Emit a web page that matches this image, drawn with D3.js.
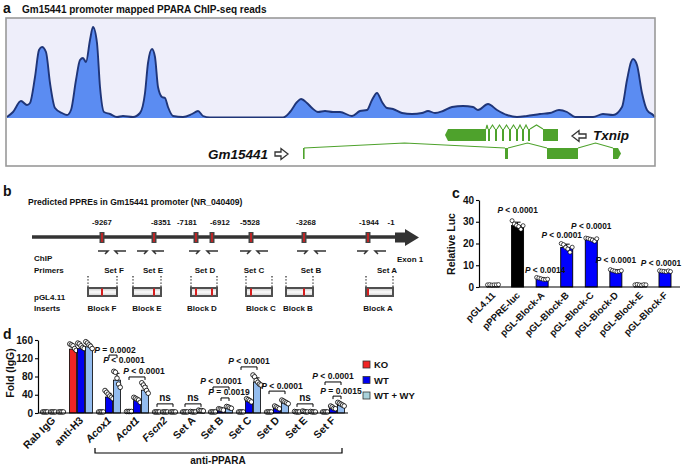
<!DOCTYPE html>
<html><head><meta charset="utf-8">
<script src="https://cdn.jsdelivr.net/npm/d3@7/dist/d3.min.js"></script>
<style>
body{margin:0;background:#fff}
svg text{font-family:"Liberation Sans",Arial,Helvetica,sans-serif;font-weight:bold;fill:#111}
</style></head><body>
<svg id="fig" width="685" height="466"></svg>
<script>
// ================= DATA =================
// Panel a: ChIP-seq read coverage (genomic bin, reads)
const signalBin = [7,13,21,27,30,35,39,42,46,50,55,62,67,71,76,80,83,86,90,93,97,100,104,110,117,123,133,140,145,148,152,155,158,162,165,168,173,183,192,198,203,210,233,260,283,290,297,301,307,312,318,325,333,340,352,360,367,372,377,382,387,393,402,412,422,428,435,443,452,463,473,478,488,497,507,517,527,540,550,559,567,575,593,603,613,622,627,631,633,637,642,647,653,655];
const signalVal = [1,6,17,13,15,41,68,71,66,35,10,5,3,8,38,58,60,56,78,91,75,31,6,4,1,2,1,5,25,55,69,61,31,21,20,11,2,1,4,7,2,0.5,0.5,0.5,0.5,6,16,19,15,10,6,7,6,6,2,7,8,18,25,16,10,9,5,4,5,7,5,7,11,12,11,8,14,8,3,1,2,4,5,8,6,1,1,4,3,11,38,56,59,53,25,8,3,1];
const gmExons = [[303,304],[505,508],[547,578],[613,621]];
const txnipExons = [[445,486],[488,490],[495,497],[502,504],[509,511],[516,518],[522,524],[528,530],[543,558]];

// Panel b
const ppreSites = [-9267,-8351,-7181,-6912,-5528,-3268,-1944,-1];
const primerSets = ["Set F","Set E","Set D","Set C","Set B","Set A"];
const blockNames = ["Block F","Block E","Block D","Block C","Block B","Block A"];
const blockSites = [[-9267],[-8351],[-7181,-6912],[-5528],[-3268],[-1944]];

// Panel c
const cCats = ["pGL4.11","pPPRE-luc","pGL-Block-A","pGL-Block-B","pGL-Block-C","pGL-Block-D","pGL-Block-E","pGL-Block-F"];
const cMeans = [1,28.3,3.8,18.2,21.8,7.4,1,7.2];
const cSD = [0.2,1.5,0.4,1.5,0.6,0.5,0.2,0.3];
const cDots = [[1,1.1,0.9,1,1,1.1],[30.5,29,28.3,27.8,26.5,28.2],[4.4,4.1,3.8,3.5,3.4,3.6],[20,19.5,18.2,17.5,16,18.3],[22.5,22.3,22,21.6,21,22.2],[8,7.6,7.3,7,7.2,7.5],[1,1.2,1,0.8,1.1,1],[7.5,7.3,7.2,7,7.4,7.1]];
const cP = ["","P < 0.0001","P < 0.0014","P < 0.0001","P < 0.0001","P < 0.0001","","P < 0.0001"];

// Panel d
const dGroups = ["Rab IgG","anti-H3","Acox1","Acot1","Fscn2","Set A","Set B","Set C","Set D","Set E","Set F"];
const dItalic = ["Acox1","Acot1","Fscn2"];
const dSeries = ["KO","WT","WT + WY"];
const dKO = [1,140,1,2,1,1,1,1,1,1,1];
const dWT = [1,141,35,27,1,1.5,6,25,10,1,10];
const dWY = [1,145,72,50,1,4,10,68,22,1,17];
const dErrKO = [0.3,7,0.3,0.5,0.3,0.3,0.3,0.3,0.3,0.5,0.3];
const dErrWT = [0.3,6,8,5,0.3,0.5,1.5,3,2.5,0.5,3];
const dErrWY = [0.3,6,15,9,0.3,1,2,9,3.5,0.5,3.5];
const dDotsKO = [[1,1,1,1],[150,148,146,140,136],[1,1,1,1],[2,2,2,2],[1,1,1,1],[1,1,1,1],[1,1,1,1],[1,1,1,1],[1,1,1,1],[2,1,1,1],[1,1,1,1]];
const dDotsWT = [[1,1,1,1],[152,150,146,142,140],[48,44,40,36,33,30],[33,31,29,27,22],[1,1,1,1],[2,1,1,1],[8,7,6,5],[30,28,26,23],[14,12,10,8],[3,2,1,1],[14,12,9,8]];
const dDotsWY = [[1,1,1,1],[155,152,148,145,140],[90,88,75,62,55],[65,60,55,48,42],[1,1,1,1],[5,4,4,3],[13,12,10,9],[82,78,70,66,62,60],[27,25,23,21,19],[2,1,1,1],[22,20,18,16,14]];
const dSig = [
  {g:"Acox1",a:1,b:2,lv:127,t:"P = 0.0002",dx:2},
  {g:"Acox1",a:null,lv:105,t:"P < 0.0001",dx:15},
  {g:"Acot1",a:0,b:2,lv:79,t:"P < 0.0001",dx:7},
  {g:"Fscn2",a:0,b:2,lv:20,t:"ns"},
  {g:"Set A",a:0,b:2,lv:20,t:"ns"},
  {g:"Set B",a:0,b:2,lv:57,t:"P < 0.0001"},
  {g:"Set B",a:1,b:2,lv:33,t:"P = 0.0019",dx:4},
  {g:"Set C",a:0,b:2,lv:101,t:"P < 0.0001"},
  {g:"Set D",a:0,b:2,lv:48,t:"P < 0.0001",dx:5},
  {g:"Set E",a:0,b:2,lv:20,t:"ns"},
  {g:"Set F",a:0,b:2,lv:68,t:"P < 0.0001"},
  {g:"Set F",a:1,b:2,lv:37,t:"P = 0.0015",dx:4}
];

// ================= DRAW =================
const svg = d3.select("#fig");
function pText(g,x,y,str,size,anchor){
  const t = g.append("text").attr("x",x).attr("y",y).attr("text-anchor",anchor||"middle").attr("font-size",size);
  if(str.startsWith("P")){ t.append("tspan").attr("font-style","italic").text("P"); t.append("tspan").text(str.slice(1)); }
  else t.text(str);
  return t;
}
function panelLabel(x,y,t){ svg.append("text").attr("x",x).attr("y",y).attr("font-size",14).text(t); }

// ---------- Panel a ----------
panelLabel(3,13,"a");
const gA = svg.append("g");
gA.append("text").attr("x",22).attr("y",13).attr("font-size",10).text("Gm15441 promoter mapped PPARA ChIP-seq reads");
gA.append("rect").attr("x",6).attr("y",18).attr("width",649).attr("height",100).attr("fill","#eeeefa");
const xA = d3.scaleLinear().domain([7,655]).range([7,655]);
const yA = d3.scaleLinear().domain([0,100]).range([118,18]);
const pts = signalBin.map((b,i)=>[b,signalVal[i]]);
gA.append("path").datum(pts)
  .attr("d", d3.area().x(d=>xA(d[0])).y0(yA(0)).y1(d=>yA(d[1])).curve(d3.curveMonotoneX))
  .attr("fill","#5b8cf2");
gA.append("path").datum(pts)
  .attr("d", d3.line().x(d=>xA(d[0])).y(d=>yA(d[1])).curve(d3.curveMonotoneX))
  .attr("fill","none").attr("stroke","#1f3578").attr("stroke-width",1.9);
gA.append("rect").attr("x",6).attr("y",118).attr("width",649).attr("height",48).attr("fill","#fff");
gA.append("rect").attr("x",6).attr("y",18).attr("width",649).attr("height",148).attr("fill","none").attr("stroke","#999").attr("stroke-width",1.6);

const green = "#4ea22c";
function gene(exons, yTop, h, peak, pointLeft, pointRight){
  const g = gA.append("g");
  exons.forEach((e,i)=>{
    const x0 = xA(e[0]), x1 = xA(e[1]);
    if(i===0 && pointLeft){
      g.append("path").attr("d",`M${x0+3},${yTop}H${x1}V${yTop+h}H${x0+3}L${x0},${yTop+h/2}Z`).attr("fill",green);
    } else if(i===exons.length-1 && pointRight){
      g.append("path").attr("d",`M${x0},${yTop}H${x1-3}L${x1},${yTop+h/2}L${x1-3},${yTop+h}H${x0}Z`).attr("fill",green);
    } else {
      g.append("rect").attr("x",x0).attr("y",yTop).attr("width",Math.max(1.6,x1-x0)).attr("height",h).attr("fill",green);
    }
    if(i<exons.length-1){
      const n = exons[i+1]; const a = xA(e[1]), b = xA(n[0]);
      g.append("path").attr("d",`M${a},${yTop}L${(a+b)/2},${yTop-peak}L${b},${yTop}`).attr("fill","none").attr("stroke",green).attr("stroke-width",1.1);
    }
  });
}
gene(txnipExons,129,12,4,true,false);
gene(gmExons,148,11,5,false,true);
gA.append("path").attr("d","M275,152H281V148.5L288,154L281,159.5V156H275Z").attr("fill","#fff").attr("stroke","#333").attr("stroke-width",1.3);
gA.append("path").attr("d","M586,134H579V130.5L572,136L579,141.5V138H586Z").attr("fill","#fff").attr("stroke","#333").attr("stroke-width",1.3);
gA.append("text").attr("x",268).attr("y",159).attr("text-anchor","end").attr("font-size",13.5).attr("font-style","italic").text("Gm15441");
gA.append("text").attr("x",593).attr("y",140).attr("font-size",13.5).attr("font-style","italic").text("Txnip");

// ---------- Panel b ----------
panelLabel(3,196,"b");
const gB = svg.append("g");
gB.append("text").attr("x",28).attr("y",205).attr("font-size",8.6).text("Predicted PPREs in Gm15441 promoter (NR_040409)");
const xB = d3.scaleLinear().domain(ppreSites).range([102,154,196,212,251,304,368,394]);
const siteLabelDx = [0,7,-9,8,-1,2,1,-3];
gB.append("line").attr("x1",32).attr("x2",396).attr("y1",237).attr("y2",237).attr("stroke","#333").attr("stroke-width",3.5);
gB.append("path").attr("d","M395,232.5H405V229L419,237.5L405,246V242.5H395Z").attr("fill","#333");
ppreSites.forEach((s,i)=>{
  gB.append("text").attr("x",xB(s)+siteLabelDx[i]).attr("y",225).attr("text-anchor","middle").attr("font-size",7.8).text(s);
  if(s!==-1){
    gB.append("rect").attr("x",xB(s)-2.5).attr("y",232).attr("width",5).attr("height",11).attr("fill","#444");
    gB.append("rect").attr("x",xB(s)-0.8).attr("y",233).attr("width",1.6).attr("height",9).attr("fill","#d81e1e");
  }
});
gB.append("text").attr("x",397).attr("y",262).attr("font-size",8).text("Exon 1");
gB.append("text").attr("x",34).attr("y",261).attr("font-size",8).text("ChIP");
gB.append("text").attr("x",34).attr("y",273).attr("font-size",8).text("Primers");
const fwdX = [98,137,189,240,297,357], revX = [115,153,207,257,315,375], setLabX = [114,153,205,254,311,387];
primerSets.forEach((s,i)=>{
  const y = 251;
  gB.append("path").attr("d",`M${fwdX[i]},${y}H${fwdX[i]+10}L${fwdX[i]+7},${y+3}`).attr("fill","none").attr("stroke","#333").attr("stroke-width",1.5);
  gB.append("path").attr("d",`M${revX[i]+11},${y}H${revX[i]}L${revX[i]+3},${y+3}`).attr("fill","none").attr("stroke","#333").attr("stroke-width",1.5);
  gB.append("text").attr("x",setLabX[i]).attr("y",273).attr("text-anchor","middle").attr("font-size",8).text(s);
});
gB.append("text").attr("x",34).attr("y",300).attr("font-size",8).text("pGL4.11");
gB.append("text").attr("x",34).attr("y",311).attr("font-size",8).text("Inserts");
const defs = svg.append("defs");
const grad = defs.append("linearGradient").attr("id","blk").attr("x1",0).attr("x2",0).attr("y1",0).attr("y2",1);
grad.append("stop").attr("offset","0%").attr("stop-color","#c8c8c8");
grad.append("stop").attr("offset","50%").attr("stop-color","#fbfbfb");
grad.append("stop").attr("offset","100%").attr("stop-color","#d0d0d0");
const blkX = [[88,117],[133,161],[191,217],[246,272],[286,313],[366,393]], blkLab = [102,147,202,261,298,378];
blockNames.forEach((b,i)=>{
  const [x0,x1] = blkX[i];
  [x0,x1].forEach(x=>gB.append("line").attr("x1",x).attr("x2",x).attr("y1",276).attr("y2",287).attr("stroke","#444").attr("stroke-width",1.4).attr("stroke-dasharray","1.4,1.8"));
  gB.append("rect").attr("x",x0).attr("y",288).attr("width",x1-x0).attr("height",8).attr("fill","url(#blk)").attr("stroke","#505050").attr("stroke-width",2);
  blockSites[i].forEach(s=>gB.append("rect").attr("x",xB(s)-1).attr("y",288.5).attr("width",2).attr("height",7).attr("fill","#d81e1e"));
  gB.append("text").attr("x",blkLab[i]).attr("y",311).attr("text-anchor","middle").attr("font-size",8).text(b);
});

// ---------- Panel c ----------
panelLabel(452,198,"c");
const gC = svg.append("g");
const xC = d3.scalePoint().domain(cCats).range([493,665]);
const yC = d3.scaleLinear().domain([0,40]).range([287,200]);
const bwC = 12;
cCats.forEach((c,i)=>{
  const x = xC(c);
  gC.append("rect").attr("x",x-bwC/2).attr("y",yC(cMeans[i])).attr("width",bwC).attr("height",yC(0)-yC(cMeans[i]))
    .attr("fill", i===1?"#000":(i===0||i===6?"#fff":"#0000ff")).attr("stroke","#000").attr("stroke-width",0.9);
  const top = yC(cMeans[i]+cSD[i]);
  gC.append("line").attr("x1",x).attr("x2",x).attr("y1",yC(cMeans[i])).attr("y2",top).attr("stroke","#000").attr("stroke-width",1);
  gC.append("line").attr("x1",x-3).attr("x2",x+3).attr("y1",top).attr("y2",top).attr("stroke","#000").attr("stroke-width",1);
  const n = cDots[i].length;
  cDots[i].forEach((v,j)=>{
    gC.append("circle").attr("cx",x+(j-(n-1)/2)*2.2).attr("cy",yC(v)).attr("r",2).attr("fill","#fff").attr("stroke","#000").attr("stroke-width",0.7);
  });
  gC.append("text").attr("transform",`translate(${x+3},${296}) rotate(-45)`).attr("text-anchor","end").attr("font-size",9.5).text(c);
});
const cPdx = [0,0,3,-5,0,0,0,-4], cPlv = [0,34,6.4,22.5,26.7,11,0,9.7];
cP.forEach((p,i)=>{ if(p) pText(gC,xC(cCats[i])+cPdx[i],yC(cPlv[i]),p,8.3); });
gC.append("g").attr("transform","translate(479,0)").call(d3.axisLeft(yC).tickValues([0,10,20,30,40]).tickSize(3).tickSizeOuter(0).tickPadding(2));
gC.append("line").attr("x1",479).attr("x2",680).attr("y1",287).attr("y2",287).attr("stroke","#000").attr("stroke-width",1.2);
gC.append("text").attr("transform","translate(455,244) rotate(-90)").attr("text-anchor","middle").attr("font-size",10.5).text("Relative Luc");

// ---------- Panel d ----------
panelLabel(3,339,"d");
const gD = svg.append("g");
const xD = d3.scalePoint().domain(dGroups).range([53,333]);
const sD = d3.scalePoint().domain(dSeries).range([-8,8]);
const yD = d3.scaleLinear().domain([0,160]).range([413,340]);
const colD = {"KO":"#f02424","WT":"#0000f0","WT + WY":"#93bcef"};
const means = {"KO":dKO,"WT":dWT,"WT + WY":dWY};
const errs = {"KO":dErrKO,"WT":dErrWT,"WT + WY":dErrWY};
const dots = {"KO":dDotsKO,"WT":dDotsWT,"WT + WY":dDotsWY};
const bwD = 7;
dGroups.forEach((g,i)=>{
  dSeries.forEach(s=>{
    const x = xD(g)+sD(s), m = means[s][i];
    gD.append("rect").attr("x",x-bwD/2).attr("y",yD(m)).attr("width",bwD).attr("height",yD(0)-yD(m)).attr("fill",colD[s]).attr("stroke","#000").attr("stroke-width",0.8);
    const top = yD(m+errs[s][i]);
    gD.append("line").attr("x1",x).attr("x2",x).attr("y1",yD(m)).attr("y2",top).attr("stroke","#000").attr("stroke-width",1);
    gD.append("line").attr("x1",x-2.5).attr("x2",x+2.5).attr("y1",top).attr("y2",top).attr("stroke","#000").attr("stroke-width",1);
    const arr = dots[s][i], n = arr.length;
    arr.forEach((v,j)=>gD.append("circle").attr("cx",x+(j-(n-1)/2)*1.6).attr("cy",yD(v)-0.6).attr("r",2.3).attr("fill","#fff").attr("stroke","#000").attr("stroke-width",0.8));
  });
  const t = gD.append("text").attr("transform",`translate(${xD(g)+3},${421}) rotate(-45)`).attr("text-anchor","end").attr("font-size",10.5).text(g);
  if(dItalic.includes(g)) t.attr("font-style","italic");
});
dSig.forEach(d=>{
  const cx = xD(d.g);
  const y = yD(d.lv);
  if(d.a!==null && d.a!==undefined){
    const x0 = cx+sD(dSeries[d.a]), x1 = cx+sD(dSeries[d.b]);
    gD.append("path").attr("d",`M${x0},${y+3}V${y}H${x1}V${y+3}`).attr("fill","none").attr("stroke","#000").attr("stroke-width",1);
    pText(gD,(x0+x1)/2+(d.dx||0),y-2.5,d.t,d.t==="ns"?10:8.5);
  } else {
    pText(gD,cx+(d.dx||0),y-2.5,d.t,8.5);
  }
});
gD.append("g").attr("transform","translate(38,0)").call(d3.axisLeft(yD).tickValues([0,40,80,120,160]).tickSize(3).tickSizeOuter(0).tickPadding(2));
gD.append("line").attr("x1",38).attr("x2",348).attr("y1",413).attr("y2",413).attr("stroke","#000").attr("stroke-width",1.2);
gD.append("text").attr("transform","translate(14,373) rotate(-90)").attr("text-anchor","middle").attr("font-size",10.5).text("Fold (IgG)");
gD.append("path").attr("d","M95,448V453H342V448").attr("fill","none").attr("stroke","#000").attr("stroke-width",1.2);
gD.append("text").attr("x",218).attr("y",464).attr("text-anchor","middle").attr("font-size",10).text("anti-PPARA");
dSeries.forEach((s,i)=>{
  const y = 361+i*15.5;
  gD.append("rect").attr("x",363).attr("y",y).attr("width",7).attr("height",7).attr("fill",s==="WT + WY"?"#a9d2dc":colD[s]).attr("stroke","#333").attr("stroke-width",0.8);
  gD.append("text").attr("x",374).attr("y",y+7).attr("font-size",9.5).text(s);
});

// axis styling
svg.selectAll(".domain").attr("stroke","#000").attr("stroke-width",1.2);
svg.selectAll(".tick line").attr("stroke","#000").attr("stroke-width",1.1);
svg.selectAll(".tick text").attr("font-size",10).attr("fill","#111").style("font-family",'"Liberation Sans",Arial,sans-serif').style("font-weight","bold");
</script>
</body></html>
